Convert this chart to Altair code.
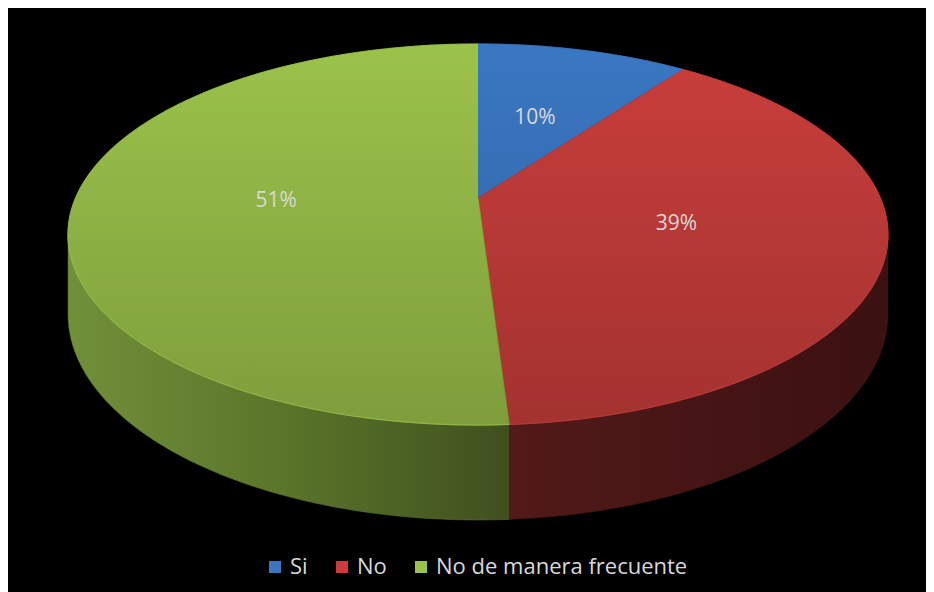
import altair as alt
import pandas as pd
import numpy as np

# ---- data ----
categories = ["Si", "No", "No de manera frecuente"]
values = [10, 39, 51]
labels = ["10%", "39%", "51%"]

top_colors = ["#3a77c3", "#c93e3b", "#9bc24a"]
rim_colors = ["#5b93d8", "#dc5a56", "#b6d86a"]
wall_stops = {
    "No": ["#521a19", "#461515", "#3b1111"],
    "No de manera frecuente": ["#71903a", "#5a7429", "#3f501f"],
}

# ---- layout / projection constants ----
W, HGT = 918, 584          # plot area
CX, CY = 470, 190          # pixel position of the pie apex
SX, SY = 402.4, 183.5      # pixels per unit
P = 0.1916                 # perspective strength
H = 76.8 / SY              # thickness of the disc
SIL = np.degrees(np.arccos(-P))  # silhouette angle


def proj(theta_deg, r=1.0, dz=0.0):
    t = np.radians(theta_deg)
    X, Y = r * np.sin(t), r * np.cos(t)
    w = 1 + P * Y
    return X / w, (Y - dz) / w


total = float(sum(values))
ends = np.cumsum(values) / total * 360.0
starts = ends - np.array(values) / total * 360.0

rows = []
text_rows = []
for i, cat in enumerate(categories):
    a0, a1 = starts[i], ends[i]
    angs = np.linspace(a0, a1, max(int(a1 - a0) + 2, 3))
    pts = [(0.0, 0.0)] + [proj(a) for a in angs]
    for k, (x, y) in enumerate(pts):
        rows.append(dict(part="top", cat=cat, poly=f"top{i}", ord=k, x=x, y=y))
    for k, a in enumerate(angs):
        x, y = proj(a)
        rows.append(dict(part="rim", cat=cat, poly=f"rim{i}", ord=k, x=x, y=y))
    lo, hi = max(a0, SIL), min(a1, 360 - SIL)
    if lo < hi:
        wa = np.linspace(lo, hi, max(int(hi - lo) + 2, 3))
        wpts = [proj(a) for a in wa] + [proj(a, dz=H) for a in wa[::-1]]
        for k, (x, y) in enumerate(wpts):
            rows.append(dict(part="wall", cat=cat, poly=f"wall{i}", ord=k, x=x, y=y))
    mx, my = proj((a0 + a1) / 2, r=0.5)
    text_rows.append(dict(cat=cat, label=labels[i], x=mx, y=my))

# whole top ellipse for the vertical shading overlay
for k, a in enumerate(np.linspace(0, 360, 361)):
    x, y = proj(a)
    rows.append(dict(part="shade", cat="", poly="shade", ord=k, x=x, y=y))

df = pd.DataFrame(rows)
tdf = pd.DataFrame(text_rows)

xs = alt.Scale(domain=[-CX / SX, (W - CX) / SX], nice=False, zero=False)
ys = alt.Scale(domain=[-(HGT - CY) / SY, CY / SY], nice=False, zero=False)

base = alt.Chart(df).encode(
    x=alt.X("x:Q", scale=xs, axis=None),
    y=alt.Y("y:Q", scale=ys, axis=None),
    order=alt.Order("ord:Q"),
    detail="poly:N",
)

layers = []
for cat, stops in wall_stops.items():
    grad = alt.LinearGradient(
        gradient="linear", x1=0, x2=1, y1=0, y2=0,
        stops=[alt.GradientStop(color=stops[0], offset=0),
               alt.GradientStop(color=stops[1], offset=0.5),
               alt.GradientStop(color=stops[2], offset=1)],
    )
    layers.append(
        base.transform_filter((alt.datum.part == "wall") & (alt.datum.cat == cat))
        .mark_line(fill=grad, stroke=stops[1], strokeWidth=0.5, interpolate="linear")
    )

cscale = alt.Scale(domain=categories, range=top_colors)
top = base.transform_filter(alt.datum.part == "top").mark_line(strokeWidth=0.8).encode(
    fill=alt.Fill(
        "cat:N", scale=cscale,
        legend=alt.Legend(
            title=None, orient="none", direction="horizontal",
            legendX=256, legendY=548,
            symbolType="square", symbolSize=144, symbolStrokeWidth=0,
            labelFont="Open Sans", labelFontSize=22, labelColor="#d9d9d9",
            labelOffset=4, columnPadding=23, labelLimit=0,
        ),
    ),
    stroke=alt.Stroke("cat:N", scale=cscale, legend=None),
)
layers.append(top)

shade_grad = alt.LinearGradient(
    gradient="linear", x1=0, x2=0, y1=0, y2=1,
    stops=[alt.GradientStop(color="rgba(0,0,0,0)", offset=0),
           alt.GradientStop(color="rgba(0,0,0,0.19)", offset=1)],
)
layers.append(
    base.transform_filter(alt.datum.part == "shade")
    .mark_line(fill=shade_grad, strokeWidth=0)
)

rscale = alt.Scale(domain=categories, range=rim_colors)
layers.append(
    base.transform_filter(alt.datum.part == "rim")
    .mark_line(strokeWidth=1.3, opacity=0.55)
    .encode(stroke=alt.Stroke("cat:N", scale=rscale, legend=None))
)

text = alt.Chart(tdf).mark_text(
    font="Open Sans", fontSize=21, color="#d9d9d9"
).encode(
    x=alt.X("x:Q", scale=xs, axis=None),
    y=alt.Y("y:Q", scale=ys, axis=None),
    text="label:N",
)
layers.append(text)

chart = alt.layer(*layers).properties(
    width=W, height=HGT, padding=0, autosize=alt.AutoSizeParams(type="none"),
    background="#000000",
).configure_view(stroke=None, fill="#000000")

chart.save("out.html", embed_options={"renderer": "svg", "actions": False})
